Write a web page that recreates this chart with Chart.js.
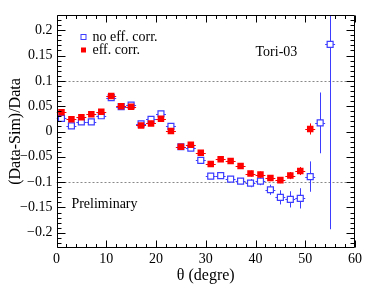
<!DOCTYPE html>
<html><head><meta charset="utf-8">
<script src="https://cdn.jsdelivr.net/npm/chart.js@4/dist/chart.umd.min.js"></script>
<style>html,body{margin:0;padding:0;background:#fff;overflow:hidden}</style>
</head><body>
<canvas id="c" width="374" height="293" style="display:block;width:374px;height:293px"></canvas>
<script>
// ---- data ----
const thetaBins = [1,3,5,7,9,11,13,15,17,19,21,23,25,27,29,31,33,35,37,39,41,43,45,47,49,51,53,55];
const thetaHalfWidth = 1;
const noCorrVals = [0.026,0.011,0.019,0.019,0.031,0.067,0.049,0.052,0.015,0.024,0.035,0.010,-0.030,-0.033,-0.057,-0.088,-0.087,-0.094,-0.098,-0.102,-0.098,-0.115,-0.130,-0.134,-0.132,-0.089,0.017,0.172];
const noCorrErr  = [0.007,0.005,0.004,0.004,0.004,0.004,0.004,0.004,0.004,0.004,0.004,0.004,0.004,0.004,0.005,0.005,0.005,0.005,0.006,0.008,0.008,0.010,0.014,0.016,0.020,0.030,0.060,0.365];
const corrVals = [0.038,0.024,0.028,0.034,0.039,0.070,0.050,0.049,0.012,0.016,0.025,0.001,-0.030,-0.026,-0.042,-0.064,-0.055,-0.058,-0.068,-0.083,-0.085,-0.092,-0.096,-0.087,-0.078,0.005];
const corrErr  = [0.006,0.005,0.005,0.005,0.005,0.005,0.005,0.005,0.005,0.005,0.005,0.005,0.005,0.005,0.005,0.005,0.005,0.005,0.005,0.006,0.006,0.006,0.006,0.007,0.008,0.011];
const xTicks = [0,10,20,30,40,50,60];
const yTicks = [-0.2,-0.15,-0.1,-0.05,0,0.05,0.1,0.15,0.2];
const refLines = [-0.1, 0.1];
const seriesNames = ['no eff. corr.', 'eff. corr.'];
const xRange = [0, 60];
const yRange = [-0.23, 0.23];

const BLUE = '#3d3dff';
const RED = '#ff0000';
const FONT = '"Liberation Serif", "DejaVu Serif", serif';

function pts(vals){ return vals.map((v,i)=>({x: thetaBins[i], y: v})); }

const framePlugin = {
  id: 'frame',
  beforeDatasetsDraw(chart){
    const {ctx, chartArea:a, scales:{x, y}} = chart;
    ctx.save();
    ctx.strokeStyle = '#888';
    ctx.lineWidth = 1;
    ctx.setLineDash([2,2]);
    refLines.forEach(v=>{
      const py = Math.round(y.getPixelForValue(v)) + 0.5;
      ctx.beginPath(); ctx.moveTo(a.left, py); ctx.lineTo(a.right, py); ctx.stroke();
    });
    ctx.restore();
  },
  beforeDatasetDraw(chart, args){
    const {ctx, chartArea:a, scales:{x, y}} = chart;
    const ds = chart.data.datasets[args.index];
    const errs = ds.errY;
    ctx.save();
    ctx.beginPath(); ctx.rect(a.left, a.top, a.right-a.left, a.bottom-a.top); ctx.clip();
    ctx.strokeStyle = ds.errColor;
    ctx.lineWidth = 1;
    ds.data.forEach((p,i)=>{
      const px = Math.round(x.getPixelForValue(p.x)) + 0.5;
      const py = Math.round(y.getPixelForValue(p.y)) + 0.5;
      const x0 = x.getPixelForValue(p.x - thetaHalfWidth), x1 = x.getPixelForValue(p.x + thetaHalfWidth);
      const y0 = y.getPixelForValue(p.y - errs[i]), y1 = y.getPixelForValue(p.y + errs[i]);
      ctx.beginPath();
      ctx.moveTo(x0, py); ctx.lineTo(x1, py);
      ctx.moveTo(px, y0); ctx.lineTo(px, y1);
      ctx.stroke();
    });
    ctx.restore();
  },
  afterDraw(chart){
    const {ctx, chartArea:a, scales:{x, y}} = chart;
    ctx.save();
    ctx.strokeStyle = '#000';
    ctx.lineWidth = 1;
    const L = Math.round(a.left)+0.5, R = Math.round(a.right)-0.5, T = Math.round(a.top)+0.5, B = Math.round(a.bottom)-0.5;
    ctx.beginPath(); ctx.rect(L, T, R-L, B-T); ctx.stroke();
    // ticks
    ctx.beginPath();
    for (let v = xRange[0]; v <= xRange[1] + 1e-9; v += 2) {
      const major = Math.abs(v % 10) < 1e-6;
      const len = major ? 7 : 3.5;
      const px = Math.round(x.getPixelForValue(v)) + 0.5;
      ctx.moveTo(px, B); ctx.lineTo(px, B - len);
      ctx.moveTo(px, T); ctx.lineTo(px, T + len);
    }
    for (let k = -22; k <= 22; k++) {
      const v = k / 100;
      const major = k % 5 === 0;
      const len = major ? 8 : 4;
      const py = Math.round(y.getPixelForValue(v)) + 0.5;
      ctx.moveTo(L, py); ctx.lineTo(L + len, py);
      ctx.moveTo(R, py); ctx.lineTo(R - len, py);
    }
    ctx.stroke();
    // legend
    ctx.font = '14px ' + FONT;
    ctx.fillStyle = '#000';
    ctx.textBaseline = 'middle';
    ctx.textAlign = 'left';
    const lx = a.left + 27;
    chart.data.datasets.slice().sort((p,q)=>p.legendIndex-q.legendIndex).forEach((ds,i)=>{
      const ly = a.top + 22 + i * 13;
      if (ds.legendIndex === 0) {
        ctx.fillStyle = '#fff'; ctx.fillRect(lx-2, ly-2, 4, 4);
        ctx.strokeStyle = ds.borderColor; ctx.strokeRect(lx-2.5, ly-2.5, 5, 5);
      } else {
        ctx.fillStyle = ds.backgroundColor; ctx.fillRect(lx-2.5, ly-2.5, 5, 5);
      }
      ctx.fillStyle = '#000';
      ctx.fillText(ds.label, lx + 9, ly);
    });
    ctx.fillText('Tori-03', x.getPixelForValue(40), a.top + 37);
    ctx.fillText('Preliminary', x.getPixelForValue(3), y.getPixelForValue(-0.143));
    ctx.restore();
  }
};

new Chart(document.getElementById('c'), {
  type: 'scatter',
  data: {
    datasets: [
      { label: seriesNames[1], legendIndex: 1, data: pts(corrVals), errY: corrErr, errColor: RED,
        pointStyle: 'rect', pointRadius: 4.6, backgroundColor: RED, borderColor: RED, borderWidth: 0, order: 0 },
      { label: seriesNames[0], legendIndex: 0, data: pts(noCorrVals), errY: noCorrErr, errColor: BLUE,
        pointStyle: 'rect', pointRadius: 4.2, backgroundColor: '#fff', borderColor: BLUE, borderWidth: 1.2, order: 1 }
    ]
  },
  options: {
    responsive: false,
    animation: false,
    devicePixelRatio: 1,
    layout: { padding: { left: 0, top: 15, right: 19, bottom: 0 } },
    plugins: { legend: { display: false }, tooltip: { enabled: false } },
    scales: {
      x: {
        type: 'linear', min: xRange[0], max: xRange[1],
        grid: { display: false, drawTicks: false },
        border: { display: false },
        afterBuildTicks(s){ s.ticks = xTicks.map(v=>({value:v})); },
        afterFit(s){ s.height = 45; },
        ticks: { color: '#000', font: { family: FONT, size: 14 }, padding: 3, maxRotation: 0,
                 callback: v => String(v) },
        title: { display: true, text: 'θ (degre)', color: '#000', font: { family: FONT, size: 16 }, padding: { top: 0, bottom: 7.5 } }
      },
      y: {
        type: 'linear', min: yRange[0], max: yRange[1],
        grid: { display: false, drawTicks: false },
        border: { display: false },
        afterBuildTicks(s){ s.ticks = yTicks.map(v=>({value:v})); },
        afterFit(s){ s.width = 56.5; },
        ticks: { color: '#000', font: { family: FONT, size: 14 }, padding: 4,
                 callback: v => { const r = Math.round(v*100)/100; return r < 0 ? '\u2212' + String(-r) : String(r); } },
        title: { display: true, text: '(Data-Sim)/Data', color: '#000', font: { family: FONT, size: 16 }, padding: { top: 6.6, bottom: 0 } }
      }
    }
  },
  plugins: [framePlugin]
});
</script>
</body></html>
